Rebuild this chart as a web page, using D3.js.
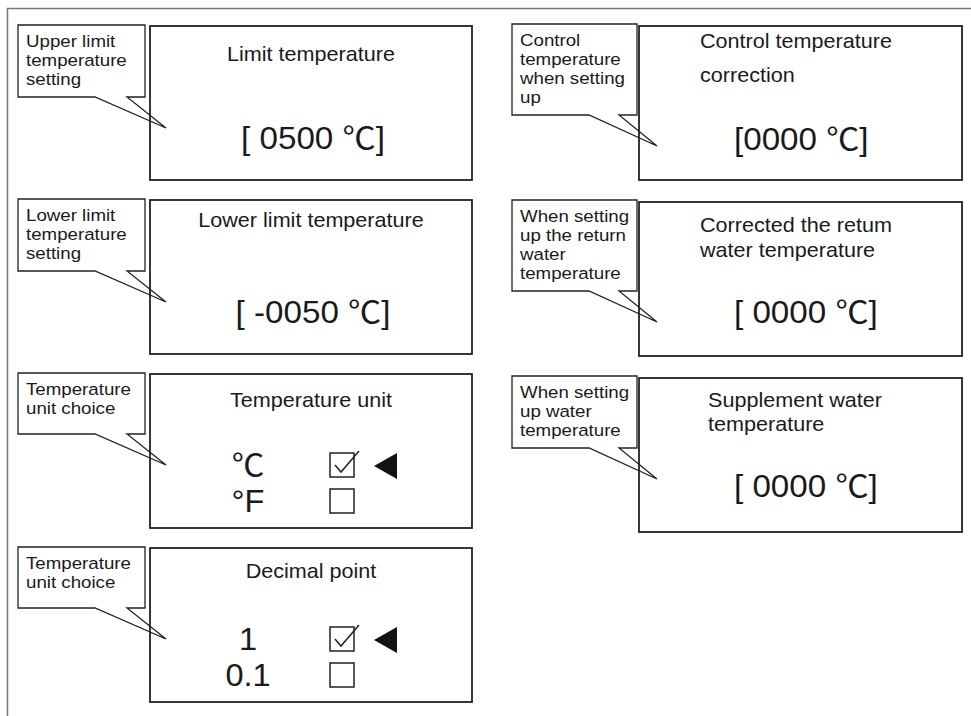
<!DOCTYPE html>
<html>
<head>
<meta charset="utf-8">
<title>Temperature settings</title>
<script src="https://d3js.org/d3.v7.min.js"></script>
<style>
  body { margin: 0; background: #fff; }
  text { font-family: "Liberation Sans", Arial, "Noto Sans CJK SC", sans-serif; fill: #1a1a1a; }
</style>
</head>
<body>
<script>
// panel texts, left column
var leftTitles = [["Limit temperature"], ["Lower limit temperature"], ["Temperature unit"], ["Decimal point"]];
var leftValues = ["[ 0500 \u2103]", "[ -0050 \u2103]", null, null];
var leftCallouts = [["Upper limit", "temperature", "setting"],
                    ["Lower limit", "temperature", "setting"],
                    ["Temperature", "unit choice"],
                    ["Temperature", "unit choice"]];
var unitOptions = ["\u2103", "\u00B0F"];
var decimalOptions = ["1", "0.1"];
var leftOptions = [null, null, unitOptions, decimalOptions];

// panel texts, right column
var rightTitles = [["Control temperature", "correction"],
                   ["Corrected the retum", "water temperature"],
                   ["Supplement water", "temperature"]];
var rightValues = ["[0000 \u2103]", "[ 0000 \u2103]", "[ 0000 \u2103]"];
var rightCallouts = [["Control", "temperature", "when setting", "up"],
                     ["When setting", "up the return", "water", "temperature"],
                     ["When setting", "up water", "temperature"]];

var width = 971, height = 716;
var svg = d3.select("body").append("svg").attr("width", width).attr("height", height);

// outer frame (top + left only)
svg.append("path").attr("d", "M7.5,716V8.5H971")
   .attr("fill", "none").attr("stroke", "#777").attr("stroke-width", 1.5);

var yLeft = d3.scaleLinear().domain([0, 3]).range([26, 548]);
var yRight = d3.scaleLinear().domain([0, 2]).range([26, 378]);
var optRow = d3.scaleLinear().domain([0, 1]).range([102, 138]);
var lineY = d3.scaleLinear().domain([0, 1]).range([22, 41]); // callout lines

var panelH = 154;

function callout(x, y, w, lines, tipX) {
  var h = Math.max(61, 15 + 19 * lines.length);
  var b = y + h;
  var pts = [[x, y], [x + w, y], [x + w, b], [x + w - 18, b], [tipX, b + 31], [x + 77, b], [x, b]];
  svg.append("path").attr("d", d3.line()(pts) + "Z")
     .attr("fill", "none").attr("stroke", "#222").attr("stroke-width", 1.3);
  var t = svg.append("text").attr("font-size", 17)
     .attr("transform", "translate(" + (x + 8) + ",0) scale(1.1,1)");
  t.selectAll("tspan").data(lines).enter().append("tspan")
     .attr("x", 0).attr("y", function(d, i) { return y + lineY(i); })
     .text(function(d) { return d; });
}

function checkbox(x, base, checked) {
  svg.append("rect").attr("x", x).attr("y", base - 23).attr("width", 24).attr("height", 24)
     .attr("fill", "none").attr("stroke", "#222").attr("stroke-width", 1.5);
  if (checked) {
    svg.append("path").attr("d", d3.line()([[x + 5, base - 11], [x + 11, base - 4], [x + 29, base - 25]]))
       .attr("fill", "none").attr("stroke", "#222").attr("stroke-width", 1.5);
    svg.append("path").attr("d", d3.line()([[x + 44, base - 10], [x + 67, base - 23], [x + 67, base + 3]]) + "Z")
       .attr("fill", "#111");
  }
}

function stretchText(x, y, size, sx, anchor, str) {
  svg.append("text").attr("font-size", size).attr("text-anchor", anchor)
     .attr("transform", "translate(" + x + "," + y + ") scale(" + sx + ",1)")
     .text(str);
}

// left column
var lx = 150, lw = 322;
var leftTitleDy = [35, 27, 33, 30];
leftTitles.forEach(function(title, i) {
  var top = yLeft(i);
  svg.append("rect").attr("x", lx).attr("y", top).attr("width", lw).attr("height", panelH)
     .attr("fill", "none").attr("stroke", "#222").attr("stroke-width", 1.8);
  stretchText(lx + lw / 2, top + leftTitleDy[i], 20, 1.08, "middle", title[0]);
  if (leftValues[i]) stretchText(lx + lw / 2 + 2, top + 123, 31, 1.07, "middle", leftValues[i]);
  if (leftOptions[i]) {
    leftOptions[i].forEach(function(opt, j) {
      var base = top + optRow(j);
      stretchText(lx + 98, base, 31, 1.05, "middle", opt);
      checkbox(lx + 180, base, j === 0);
    });
  }
  callout(18, top - 1, 127, leftCallouts[i], lx + 16);
});

// right column
var rx = 639, rw = 323;
var rightTitleDx = [61, 61, 69];
var rightTitleDy = [[22, 56], [30, 55], [29, 53]];
var rightValueDy = [124, 121, 119];
rightTitles.forEach(function(title, i) {
  var top = yRight(i);
  svg.append("rect").attr("x", rx).attr("y", top).attr("width", rw).attr("height", panelH)
     .attr("fill", "none").attr("stroke", "#222").attr("stroke-width", 1.8);
  title.forEach(function(line, j) {
    stretchText(rx + rightTitleDx[i], top + rightTitleDy[i][j], 20, 1.08, "start", line);
  });
  stretchText(rx + 95, top + rightValueDy[i], 31, 1.07, "start", rightValues[i]);
  callout(512, top - 2, 125, rightCallouts[i], rx + 18);
});
</script>
</body>
</html>
